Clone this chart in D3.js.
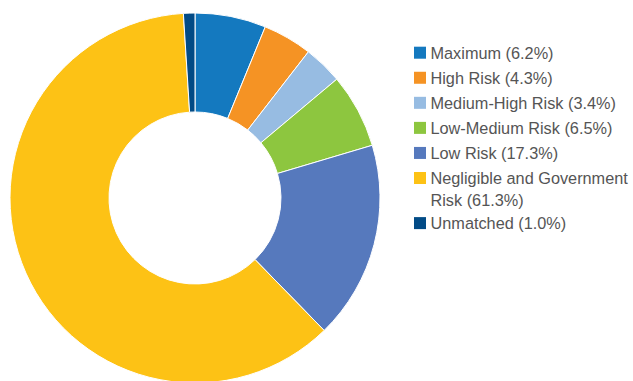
<!DOCTYPE html>
<html>
<head>
<meta charset="utf-8">
<script src="https://cdn.jsdelivr.net/npm/d3@7"></script>
<style>
  html, body { margin: 0; padding: 0; background: #fff; }
  svg { display: block; }
</style>
</head>
<body>
<div id="chart"></div>
<script>
// data
var categories = ["Maximum", "High Risk", "Medium-High Risk", "Low-Medium Risk", "Low Risk", "Negligible and Government Risk", "Unmatched"];
var values = [6.2, 4.3, 3.4, 6.5, 17.3, 61.3, 1.0];
var colors = ["#1479bf", "#f59324", "#97bce2", "#8dc63f", "#5679bd", "#fdc215", "#024b86"];

var width = 633
var height = 381

var svg = d3.select("#chart")
    .append("svg")
    .attr("width", width)
    .attr("height", height)

var dataset = categories.map((c, i) => ({ name: c, value: values[i], color: colors[i] }))

var pie = d3.pie()
    .sort(null)
    .value(d => d.value)

var arc = d3.arc()
    .innerRadius(86)
    .outerRadius(185)

var donut = svg.append("g")
    .attr("transform", "translate(195,198)")

donut.selectAll("path")
    .data(pie(dataset))
    .enter()
    .append("path")
    .attr("d", arc)
    .style("fill", d => d.data.color)
    .attr("stroke", "#fff")
    .style("stroke-width", 1)

// legend
var legendX = 414
var rowY = d3.scaleLinear()
    .domain([0, 5])
    .range([52.7, 178])

// row position per item (the long label wraps onto two lines)
var rows = [0, 1, 2, 3, 4, 5, 6.8]
var lines = [
    ["Maximum (6.2%)"],
    ["High Risk (4.3%)"],
    ["Medium-High Risk (3.4%)"],
    ["Low-Medium Risk (6.5%)"],
    ["Low Risk (17.3%)"],
    ["Negligible and Government", "Risk (61.3%)"],
    ["Unmatched (1.0%)"]
]

var legend = svg.append("g")
    .selectAll("g")
    .data(dataset)
    .enter()
    .append("g")
    .attr("transform", (d, i) => "translate(" + legendX + "," + rowY(rows[i]) + ")")

legend.append("rect")
    .attr("x", 0)
    .attr("y", -6)
    .attr("width", 12)
    .attr("height", 12)
    .style("fill", d => d.color)

legend.append("text")
    .attr("x", 16.5)
    .attr("y", 0)
    .style("font-family", "'Liberation Sans', Arial, sans-serif")
    .style("font-size", "16.3px")
    .style("fill", "#555")
    .selectAll("tspan")
    .data((d, i) => lines[i])
    .enter()
    .append("tspan")
    .attr("x", 16.5)
    .attr("dy", (t, j) => j == 0 ? "0.36em" : "1.35em")
    .text(t => t)
</script>
</body>
</html>
